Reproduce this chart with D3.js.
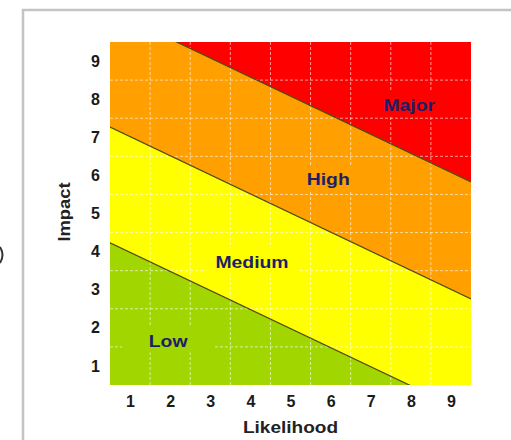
<!DOCTYPE html>
<html>
<head>
<meta charset="utf-8">
<script src="https://cdn.jsdelivr.net/npm/d3@7"></script>
<style>
  body { margin: 0; background: #fff; }
  svg { display: block; }
  .axis text { font-family: 'Liberation Sans', Arial, sans-serif; font-weight: bold; font-size: 16px; fill: #1a1a1a; }
</style>
</head>
<body>
<div id="chart"></div>
<script>
// axis ticks (both axes 1..9)
const ticks = [1, 2, 3, 4, 5, 6, 7, 8, 9];

// zone boundary lines: [likelihood, impact] at left and right edge
const majorEdge = [[0.5, 10.33], [9.5, 5.83]];
const highEdge = [[0.5, 7.27], [9.5, 2.76]];
const lowEdge = [[0.5, 4.23], [9.5, -0.27]];

// zones from top to bottom
const zoneNames = ['Major', 'High', 'Medium', 'Low'];
const zoneColors = ['#ff0000', '#ff9f00', '#ffff00', '#a2d600'];
const labelLikelihood = [7.96, 5.94, 4.04, 1.95];
const labelImpact = [7.85, 5.9, 3.72, 1.67];

const W = 511, H = 440;
const margin = {left: 110, right: 40, top: 42, bottom: 55};

const svg = d3.select('#chart').append('svg')
    .attr('width', W)
    .attr('height', H);

// frame lines of the screenshot
svg.append('path')
    .attr('d', 'M23,440 L23,10 L511,10')
    .attr('fill', 'none')
    .attr('stroke', '#c4c4c4')
    .attr('stroke-width', 2.5);
svg.append('path')
    .attr('d', 'M0,247 Q5,255 0,263')
    .attr('fill', 'none')
    .attr('stroke', '#333')
    .attr('stroke-width', 2);

const x = d3.scaleLinear()
    .domain([0.5, 9.5])
    .range([margin.left, W - margin.right]);
const y = d3.scaleLinear()
    .domain([0.5, 9.5])
    .range([H - margin.bottom, margin.top]);

svg.append('clipPath')
    .attr('id', 'plot')
  .append('rect')
    .attr('x', x(0.5))
    .attr('y', y(9.5))
    .attr('width', x(9.5) - x(0.5))
    .attr('height', y(0.5) - y(9.5));

const plot = svg.append('g').attr('clip-path', 'url(#plot)');

// top zone fills everything, the others are stacked on top below each edge
plot.append('rect')
    .attr('x', x(0.5))
    .attr('y', y(9.5))
    .attr('width', x(9.5) - x(0.5))
    .attr('height', y(0.5) - y(9.5))
    .attr('fill', zoneColors[0]);

const area = d3.area()
    .x(d => x(d[0]))
    .y0(y(-2))
    .y1(d => y(d[1]));

const edges = [majorEdge, highEdge, lowEdge];
edges.forEach((e, i) => {
  plot.append('path')
      .attr('d', area(e))
      .attr('fill', zoneColors[i + 1]);
});

// grid: white dashed lines between cells
const gridAt = ticks.slice(0, -1).map(t => t + 0.5);
plot.selectAll('.vgrid')
    .data(gridAt)
  .enter().append('line')
    .attr('x1', d => x(d)).attr('x2', d => x(d))
    .attr('y1', y(9.5)).attr('y2', y(0.5))
    .attr('stroke', '#fff')
    .attr('stroke-opacity', 0.6)
    .attr('stroke-dasharray', '3,2');
plot.selectAll('.hgrid')
    .data(gridAt)
  .enter().append('line')
    .attr('y1', d => y(d)).attr('y2', d => y(d))
    .attr('x1', x(0.5)).attr('x2', x(9.5))
    .attr('stroke', '#fff')
    .attr('stroke-opacity', 0.6)
    .attr('stroke-dasharray', '3,2');

// boundary lines
const line = d3.line().x(d => x(d[0])).y(d => y(d[1]));
edges.forEach(e => {
  plot.append('path')
      .attr('d', line(e))
      .attr('fill', 'none')
      .attr('stroke', '#4f4a14')
      .attr('stroke-width', 1.2);
});

// zone labels, with a box of the zone colour behind (hides the grid there)
zoneNames.forEach((name, i) => {
  const g = plot.append('g')
      .attr('transform', 'translate(' + x(labelLikelihood[i]) + ',' + y(labelImpact[i]) + ')');
  g.append('rect')
      .attr('x', -46).attr('y', -14)
      .attr('width', 92).attr('height', 26)
      .attr('fill', zoneColors[i]);
  g.append('text')
      .text(name)
      .attr('text-anchor', 'middle')
      .attr('dy', '0.36em')
      .attr('transform', 'scale(1.14,1)')
      .attr('font-family', 'Liberation Sans, Arial, sans-serif')
      .attr('font-weight', 'bold')
      .attr('font-size', '17px')
      .attr('fill', '#1e1e66');
});

// axes
const xAxis = svg.append('g')
    .attr('class', 'axis')
    .attr('transform', 'translate(0,' + y(0.5) + ')')
    .call(d3.axisBottom(x).tickValues(ticks).tickSize(0).tickPadding(11));
const yAxis = svg.append('g')
    .attr('class', 'axis')
    .attr('transform', 'translate(' + x(0.5) + ',0)')
    .call(d3.axisLeft(y).tickValues(ticks).tickSize(0).tickPadding(10));
[xAxis, yAxis].forEach(a => a.select('.domain').remove());

// axis titles
svg.append('text')
    .text('Likelihood')
    .attr('text-anchor', 'middle')
    .attr('transform', 'translate(' + ((x(0.5) + x(9.5)) / 2) + ',433) scale(1.12,1)')
    .attr('font-family', 'Liberation Sans, Arial, sans-serif')
    .attr('font-weight', 'bold')
    .attr('font-size', '17px')
    .attr('fill', '#222');
svg.append('text')
    .text('Impact')
    .attr('text-anchor', 'middle')
    .attr('transform', 'translate(70,212) rotate(-90) scale(1.08,1)')
    .attr('font-family', 'Liberation Sans, Arial, sans-serif')
    .attr('font-weight', 'bold')
    .attr('font-size', '17px')
    .attr('fill', '#222');
</script>
</body>
</html>
